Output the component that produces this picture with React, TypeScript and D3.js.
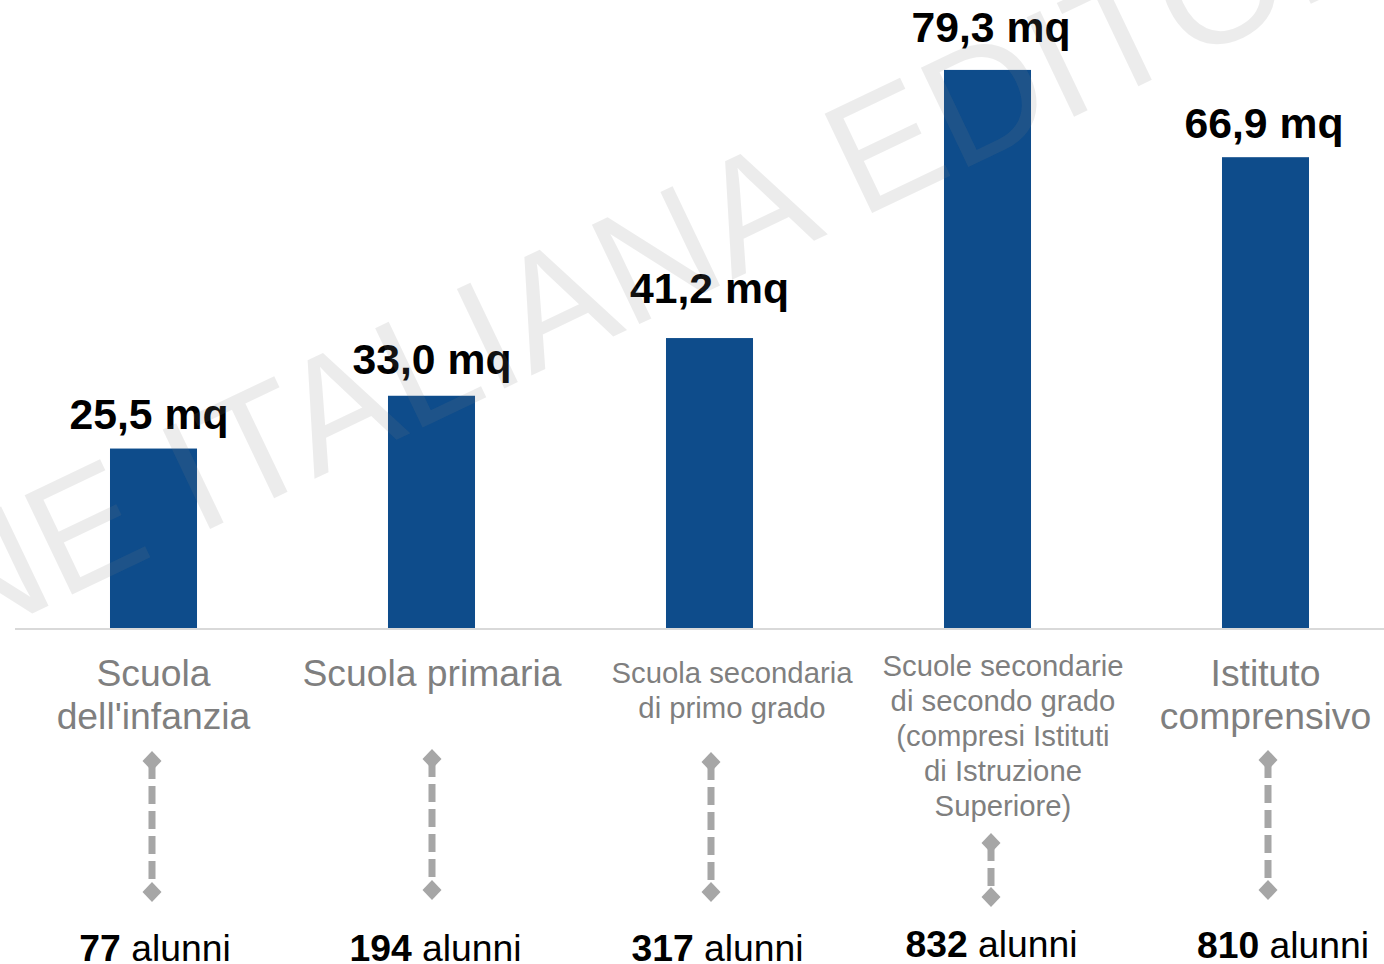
import React from "react";
import * as d3 from "d3";

// ---- data ----
const categories: string[][] = [
  ["Scuola", "dell'infanzia"],
  ["Scuola primaria"],
  ["Scuola secondaria", "di primo grado"],
  ["Scuole secondarie", "di secondo grado", "(compresi Istituti", "di Istruzione", "Superiore)"],
  ["Istituto", "comprensivo"],
];
const values: number[] = [25.5, 33.0, 41.2, 79.3, 66.9];
const valueLabels: string[] = ["25,5 mq", "33,0 mq", "41,2 mq", "79,3 mq", "66,9 mq"];
const pupils: string[] = ["77", "194", "317", "832", "810"];
const pupilsUnit = "alunni";
const watermark = "NE ITALIANA EDITORE";

// ---- layout (not data) ----
const W = 1384;
const H = 964;
const baseY = 628;
const labelDy = [20, 22, 35, 28, 19];
const labelDx = [-4.5, 0.5, 0, 3.5, -1.5];
const catDx = [0, 0.5, 22.5, 15.5, 0];
const catSize = [37.3, 37.3, 29.3, 29.3, 37.3];
const catLine = [43, 43, 35, 35, 43];
const catFirstBase = [686, 686, 683, 676, 686];
const arrowDx = [-1.5, 0.5, 1.5, 3.5, 2.5];
const arrowTop = [761, 759, 762, 843, 760];
const arrowBottom = [892, 890, 892, 897, 890];
const pupilDx = [1.5, 4, 8, 4, 17.5];
const pupilBase = [961, 961, 961, 957, 958];

const BAR = "#0e4c8b";
const GREY_TXT = "#7f7f7f";
const ARROW = "#a6a6a6";

export default function App() {
  const idx = values.map((_, i) => String(i));
  const x = d3
    .scaleBand<string>()
    .domain(idx)
    .range([14.5, 1404.5])
    .paddingInner(0.687)
    .paddingOuter(0.3435);
  const y = d3.scaleLinear().domain([0, 80]).range([baseY, baseY - 80 * 7.0375]);
  const bw = x.bandwidth();

  const diamond = (cx: number, cy: number) =>
    `M${cx},${cy - 10}L${cx + 9.5},${cy}L${cx},${cy + 10}L${cx - 9.5},${cy}Z`;

  const ang = -25.5;
  const fs = 160;

  return (
    <svg
      width={W}
      height={H}
      style={{ position: "absolute", left: 0, top: 0, background: "#fff" }}
      fontFamily="'Liberation Sans', Arial, sans-serif"
    >
      <rect x={0} y={0} width={W} height={H} fill="#fff" />
      {/* axis line */}
      <line x1={15} x2={W} y1={baseY + 1} y2={baseY + 1} stroke="#d9d9d9" strokeWidth={2} />
      {/* bars */}
      {values.map((v, i) => (
        <rect key={"b" + i} x={x(String(i))!} y={y(v)} width={bw} height={baseY - y(v)} fill={BAR} />
      ))}
      {/* value labels */}
      {values.map((v, i) => (
        <text
          key={"v" + i}
          x={x(String(i))! + bw / 2 + labelDx[i]}
          y={y(v) - labelDy[i]}
          textAnchor="middle"
          fontSize={42.7}
          fontWeight="bold"
          fill="#000"
        >
          {valueLabels[i]}
        </text>
      ))}
      {/* category labels */}
      {categories.map((lines, i) => (
        <text key={"c" + i} textAnchor="middle" fontSize={catSize[i]} fill={GREY_TXT}>
          {lines.map((l, j) => (
            <tspan key={j} x={x(String(i))! + bw / 2 + catDx[i]} y={catFirstBase[i] + j * catLine[i]}>
              {l}
            </tspan>
          ))}
        </text>
      ))}
      {/* arrows */}
      {values.map((_, i) => {
        const cx = x(String(i))! + bw / 2 + arrowDx[i];
        const t = arrowTop[i];
        const b = arrowBottom[i];
        return (
          <g key={"a" + i} fill={ARROW}>
            <line x1={cx} x2={cx} y1={t} y2={b - 6} stroke={ARROW} strokeWidth={7} strokeDasharray="18 7" />
            <path d={diamond(cx, t)} />
            <path d={diamond(cx, b)} />
          </g>
        );
      })}
      {/* pupils */}
      {pupils.map((p, i) => (
        <text
          key={"p" + i}
          x={x(String(i))! + bw / 2 + pupilDx[i]}
          y={pupilBase[i]}
          textAnchor="middle"
          fontSize={37.3}
          fill="#000"
        >
          <tspan fontWeight="bold">{p}</tspan>
          <tspan>{" " + pupilsUnit}</tspan>
        </text>
      ))}
      {/* watermark */}
      <g transform={`translate(-44,650) rotate(${ang})`}>
        <text x={0} y={0} fontSize={fs} fill="#808080" fillOpacity={0.15}>
          {watermark}
        </text>
      </g>
    </svg>
  );
}
